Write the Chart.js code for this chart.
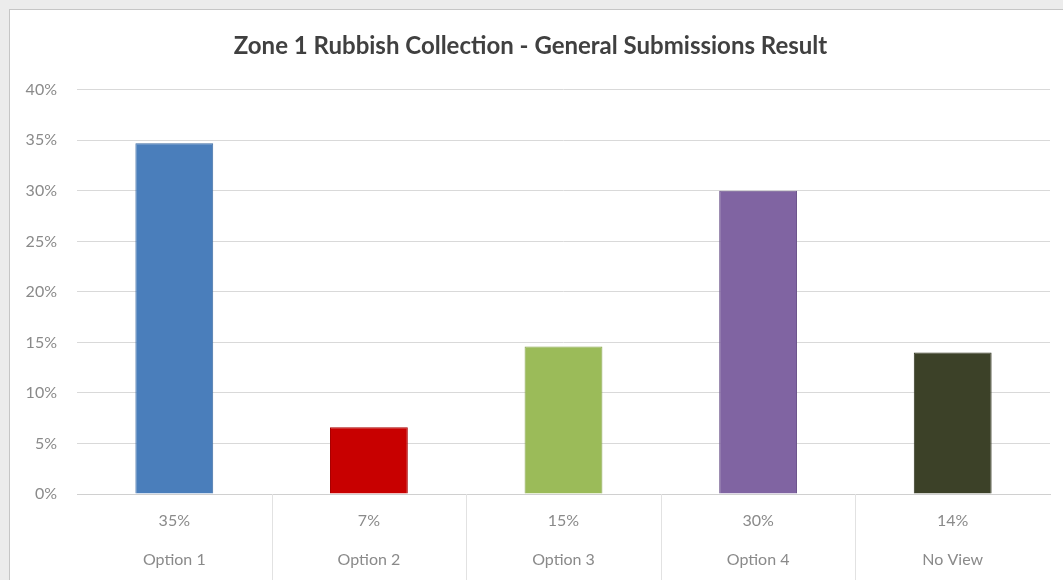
<!DOCTYPE html>
<html>
<head>
<meta charset="utf-8">
<script src="https://cdn.jsdelivr.net/npm/chart.js@4"></script>
<style>
  html, body { margin: 0; padding: 0; background: #ececec; }
  #frame {
    position: absolute; left: 9px; top: 9px; width: 1054px; height: 571px;
    background: #fff; border-left: 1px solid #c6c6c6; border-top: 1px solid #c6c6c6;
  }
  #wrap { position: absolute; left: 1px; top: 1px; width: 1052px; height: 569px; }
</style>
</head>
<body>
<div id="frame"><div id="wrap"><canvas id="myChart"></canvas></div></div>
<script>
// chart data
var categories = ["Option 1", "Option 2", "Option 3", "Option 4", "No View"];
var shares = [34.7, 6.6, 14.6, 30.0, 14.0];
var barColors = ["#4a7ebb", "#c80000", "#9bbb59", "#8064a2", "#3c4128"];
var borderColors = ["#3e6ca3", "#a80000", "#86a34b", "#6d558c", "#30341f"];
var yTicks = [0, 5, 10, 15, 20, 25, 30, 35, 40];

// data table row under the axis: rounded value + category
var tableLabels = categories.map((c, i) => [Math.round(shares[i]) + "%", c]);

// vertical separators in the data table area
var tableLines = {
    id: "tableLines",
    afterDraw(chart) {
        var x = chart.scales.x;
        var ctx = chart.ctx;
        var area = chart.chartArea;
        ctx.save();
        ctx.strokeStyle = "#e2e2e2";
        ctx.lineWidth = 1;
        for (var i = 1; i < categories.length; i++) {
            var px = Math.round((x.getPixelForValue(i - 1) + x.getPixelForValue(i)) / 2) + 0.5;
            ctx.beginPath();
            ctx.moveTo(px, area.bottom);
            ctx.lineTo(px, chart.height);
            ctx.stroke();
        }
        ctx.restore();
    }
};

new Chart("myChart", {
    type: "bar",
    data: {
        labels: tableLabels,
        datasets: [{
            data: shares,
            backgroundColor: barColors,
            borderColor: borderColors,
            borderWidth: 1,
            barPercentage: 0.4,
            categoryPercentage: 1
        }]
    },
    options: {
        responsive: true,
        maintainAspectRatio: false,
        animation: false,
        layout: { padding: { left: 0, right: 13, top: 0, bottom: 0 } },
        plugins: {
            legend: { display: false },
            tooltip: { enabled: false },
            title: {
                display: true,
                text: "Zone 1 Rubbish Collection - General Submissions Result",
                color: "#404040",
                font: { family: "Lato", size: 24, weight: "bold" },
                padding: { top: 21, bottom: 29 }
            }
        },
        scales: {
            x: {
                grid: { display: false, drawTicks: false },
                border: { display: true, color: "#d0d0d0" },
                ticks: {
                    color: "#8a8a8a",
                    font: { family: "Lato", size: 16, lineHeight: 2.44 },
                    padding: 7,
                    maxRotation: 0
                },
                afterFit(scale) { scale.height = 86; }
            },
            y: {
                min: 0,
                max: 40,
                afterBuildTicks(scale) { scale.ticks = yTicks.map(v => ({ value: v })); },
                grid: { color: "#d9d9d9", drawTicks: false },
                border: { display: false },
                ticks: {
                    color: "#8a8a8a",
                    font: { family: "Lato", size: 16 },
                    padding: 20,
                    callback: v => v + "%"
                },
                afterFit(scale) { scale.width = 66; }
            }
        }
    },
    plugins: [tableLines]
});
</script>
</body>
</html>
